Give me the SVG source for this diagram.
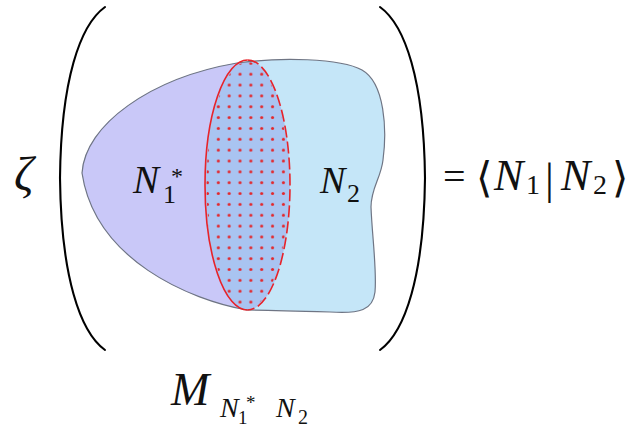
<svg xmlns="http://www.w3.org/2000/svg" width="644" height="428" viewBox="0 0 644 428">
<style>
.m{font-family:"Liberation Serif","Times New Roman",serif;font-style:italic;fill:#111}
.r{font-family:"Liberation Serif","DejaVu Serif",serif;fill:#111}
.paren{fill:none;stroke:#000;stroke-width:2.1;stroke-linecap:round}
</style>
<defs>
<path id="blob" d="M82,173 C85,125 150,78 237,63 C280,57 340,58 362,70 C385,83 387,130 383,160 C381,178 371,188 371,207 C372,235 377,270 375,292 C373,310 360,314 330,312 C300,311 270,310 247,310 C190,300 95,260 82,173 Z"/>
<clipPath id="cb"><use href="#blob"/></clipPath>
<pattern id="dots" patternUnits="userSpaceOnUse" x="212.9" y="57.9" width="10.85" height="10.85">
<circle cx="5.42" cy="5.42" r="1.55" fill="#e3262c"/>
</pattern>
</defs>
<rect width="644" height="428" fill="#fff"/>
<g id="parens">
<path class="paren" d="M105,7 C80,25 61,80 60,178 C61,276 80,332 105,350"/>
<path class="paren" d="M380,7 C405,25 424,80 425,178 C424,276 405,332 380,350"/>
</g>
<g id="region">
<use href="#blob" fill="#c5e6f8"/>
<g clip-path="url(#cb)">
<path d="M0,0 H247.5 V60 A42.5,125 0 0 0 247.5,310 V428 H0 Z" fill="#c9c8f8"/>
<ellipse cx="247.5" cy="185" rx="42.5" ry="125" fill="#a9c4f1"/>
</g>
<use href="#blob" fill="none" stroke="#6f7584" stroke-width="1.2"/>
</g>
<g id="overlap">
<ellipse cx="247.5" cy="185" rx="41" ry="123" fill="url(#dots)"/>
<path d="M247.5,60 A42.5,125 0 0 0 247.5,310" fill="none" stroke="#e8232a" stroke-width="1.6"/>
<path d="M247.5,60 A42.5,125 0 0 1 247.5,310" fill="none" stroke="#e8232a" stroke-width="1.6" stroke-dasharray="12 4"/>
</g>
<g id="label-n1">
<text class="m" x="133" y="193" font-size="39">N</text>
<text class="r" x="163" y="203" font-size="26">1</text>
<text class="r" x="171" y="184" font-size="24">*</text>
</g>
<g id="label-n2">
<text class="m" x="320" y="193" font-size="38">N</text>
<text class="r" x="347" y="202" font-size="26">2</text>
</g>
<g id="zeta">
<text class="m" x="14" y="190" font-size="48">ζ</text>
</g>
<g id="equation">
<text class="r" x="443" y="190" font-size="40">=</text>
<text class="r" x="476" y="192" font-size="42" font-family="DejaVu Serif">⟨</text>
<text class="m" x="494" y="190" font-size="44">N</text>
<text class="r" x="526" y="194" font-size="28">1</text>
<text class="r" x="545" y="194" font-size="44">|</text>
<text class="m" x="561" y="190" font-size="44">N</text>
<text class="r" x="593" y="194" font-size="28">2</text>
<text class="r" x="612" y="192" font-size="42" font-family="DejaVu Serif">⟩</text>
</g>
<g id="label-m">
<text class="m" x="171" y="405" font-size="46">M</text>
<text class="m" x="220" y="417" font-size="28">N</text>
<text class="r" x="238" y="424" font-size="19">1</text>
<text class="r" x="246" y="409" font-size="19">*</text>
<text class="m" x="276" y="417" font-size="28">N</text>
<text class="r" x="298" y="424" font-size="20">2</text>
</g>
</svg>
